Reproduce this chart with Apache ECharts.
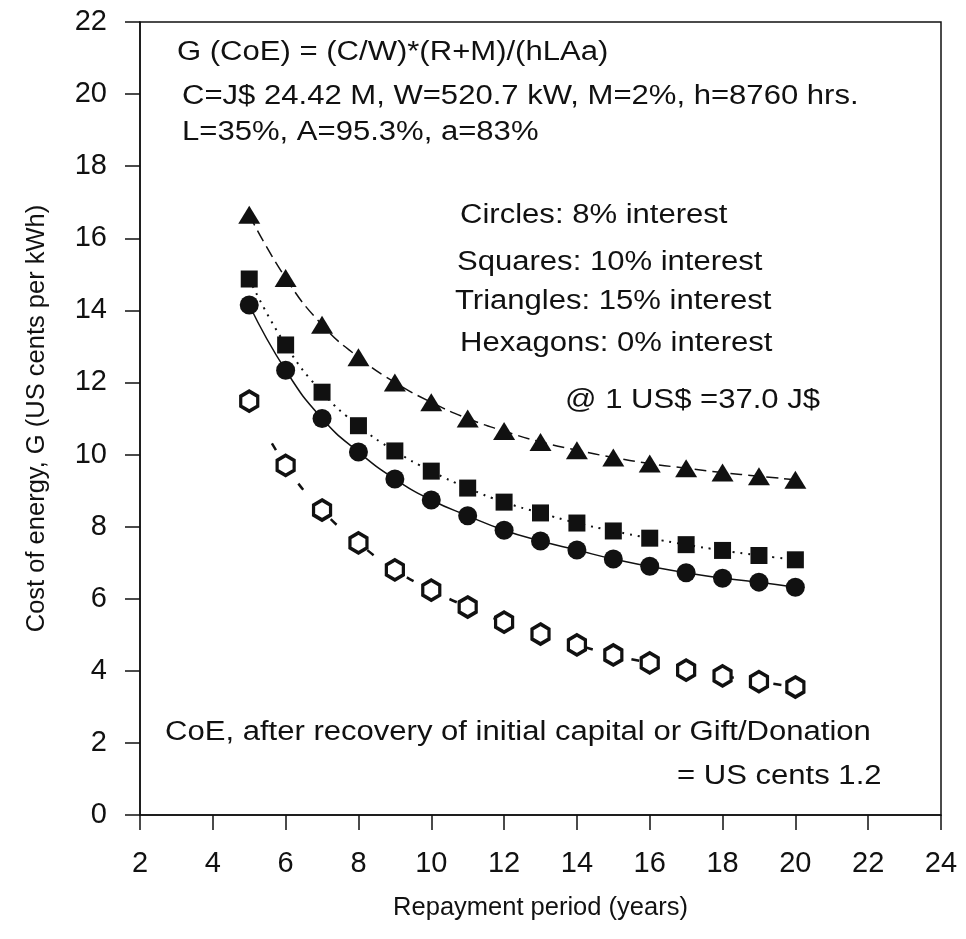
<!DOCTYPE html>
<html lang="en">
<head>
    <meta charset="UTF-8">
    <title>Cost of energy vs repayment period</title>
    <script src="https://cdn.jsdelivr.net/npm/echarts@6.0.0/dist/echarts.min.js"></script>
    <style>
        body { margin: 0; background: #fff; }
    </style>
</head>
<body>
    <div id="main" style="width: 966px;height:939px;"></div>
    <script type="text/javascript">
        // repayment period in years
        const years = [5, 6, 7, 8, 9, 10, 11, 12, 13, 14, 15, 16, 17, 18, 19, 20];
        // cost of energy, US cents per kWh
        const circles8 = [14.15, 12.34, 11.0, 10.07, 9.32, 8.74, 8.3, 7.9, 7.6, 7.35, 7.1, 6.9, 6.72, 6.57, 6.46, 6.32];
        const squares10 = [14.87, 13.04, 11.73, 10.8, 10.1, 9.54, 9.07, 8.68, 8.38, 8.1, 7.88, 7.68, 7.5, 7.34, 7.2, 7.08];
        const triangles15 = [16.65, 14.9, 13.6, 12.7, 12.0, 11.45, 11.0, 10.65, 10.35, 10.12, 9.92, 9.75, 9.62, 9.5, 9.4, 9.3];
        const hexagons0 = [11.48, 9.7, 8.46, 7.55, 6.8, 6.24, 5.77, 5.35, 5.02, 4.72, 4.44, 4.22, 4.02, 3.86, 3.7, 3.55];

        const xTicks = [2, 24, 2];  // min, max, step
        const yTicks = [0, 22, 2];

        const pair = (ys) => years.map((x, i) => [x, ys[i]]);
        const ink = '#111';
        const family = '"Liberation Sans", Arial, sans-serif';
        const hexagon = 'path://M0,-10 L8.66,-5 L8.66,5 L0,10 L-8.66,5 L-8.66,-5 Z';

        // the scanned figure is a bit wider than tall, so stretch the notes sideways
        function note(text, x, y) {
            return { type: 'text', x: x, y: y, scaleX: 1.15,
                style: { text: text, fill: ink, font: '27px ' + family, align: 'left', verticalAlign: 'middle' } };
        }

        let myChart = echarts.init(document.getElementById('main'));
        let options = {
            backgroundColor: '#fff',
            animation: false,
            grid: { left: 140, right: 25, top: 22, bottom: 124, show: true, borderColor: ink, borderWidth: 1.5 },
            xAxis: {
                type: 'value', min: xTicks[0], max: xTicks[1], interval: xTicks[2],
                name: 'Repayment period (years)', nameLocation: 'middle', nameGap: 80,
                nameTextStyle: { color: ink, fontSize: 25.5, fontFamily: family },
                axisLine: { lineStyle: { color: ink, width: 1.5 } },
                axisTick: { length: 15, lineStyle: { color: ink, width: 1.5 } },
                axisLabel: { color: ink, fontSize: 29, fontFamily: family, margin: 34 },
                splitLine: { show: false }
            },
            yAxis: {
                type: 'value', min: yTicks[0], max: yTicks[1], interval: yTicks[2],
                name: 'Cost of energy, G (US cents per kWh)', nameLocation: 'middle', nameGap: 90,
                nameTextStyle: { color: ink, fontSize: 25.5, fontFamily: family },
                axisLine: { lineStyle: { color: ink, width: 1.5 } },
                axisTick: { length: 15, lineStyle: { color: ink, width: 1.5 } },
                axisLabel: { color: ink, fontSize: 29, fontFamily: family, margin: 33 },
                splitLine: { show: false }
            },
            series: [
                {
                    name: 'Circles: 8% interest', type: 'line', smooth: true, data: pair(circles8),
                    symbol: 'circle', symbolSize: 19,
                    itemStyle: { color: ink }, lineStyle: { color: ink, width: 1.5, type: 'solid' }
                },
                {
                    name: 'Squares: 10% interest', type: 'line', smooth: true, data: pair(squares10),
                    symbol: 'rect', symbolSize: 17,
                    itemStyle: { color: ink }, lineStyle: { color: ink, width: 2, type: [2, 6] }
                },
                {
                    name: 'Triangles: 15% interest', type: 'line', smooth: true, data: pair(triangles15),
                    symbol: 'triangle', symbolSize: [22, 18],
                    itemStyle: { color: ink }, lineStyle: { color: ink, width: 1.5, type: [12, 6] }
                },
                {
                    name: 'Hexagons: 0% interest', type: 'line', smooth: true, data: pair(hexagons0),
                    symbol: hexagon, symbolSize: [17, 20],
                    itemStyle: { color: '#fff', borderColor: ink, borderWidth: 3.5 },
                    lineStyle: { color: ink, width: 2.5, type: [8, 40] }
                }
            ],
            graphic: [
                note('G (CoE) = (C/W)*(R+M)/(hLAa)', 177, 53),
                note('C=J$ 24.42 M, W=520.7 kW, M=2%, h=8760 hrs.', 182, 97),
                note('L=35%, A=95.3%, a=83%', 182, 133),
                note('Circles: 8% interest', 460, 216),
                note('Squares: 10% interest', 457, 263),
                note('Triangles: 15% interest', 455, 302),
                note('Hexagons: 0% interest', 460, 344),
                note('@ 1 US$ =37.0 J$', 565, 401),
                note('CoE, after recovery of initial capital or Gift/Donation', 165, 733),
                note('= US cents 1.2', 677, 777)
            ]
        };
        myChart.setOption(options);
    </script>
</body>
</html>
